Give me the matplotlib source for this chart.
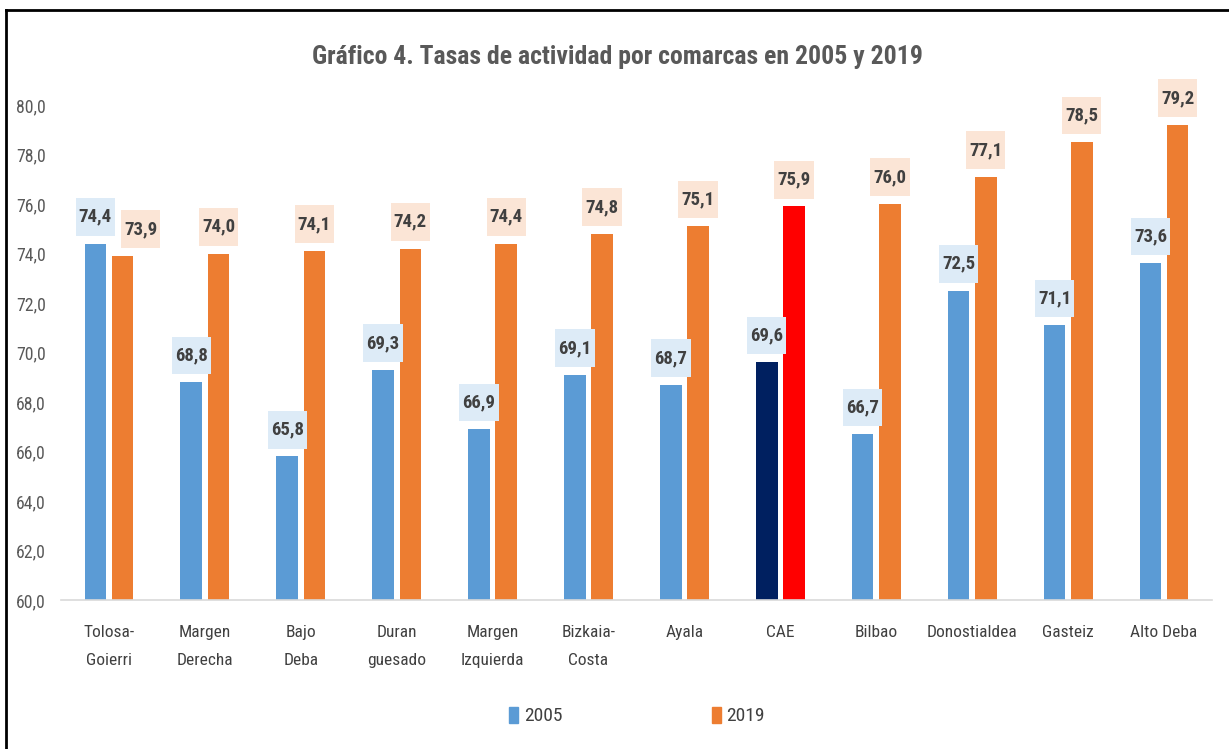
import matplotlib
matplotlib.use("Agg")
import matplotlib.pyplot as plt
import numpy as np
from matplotlib.lines import Line2D
from matplotlib.patches import Rectangle

plt.rcParams['font.family'] = ['Roboto Condensed', 'Lato', 'DejaVu Sans']

# data
comarcas = ["Tolosa-\nGoierri", "Margen\nDerecha", "Bajo\nDeba", "Duran\nguesado",
            "Margen\nIzquierda", "Bizkaia-\nCosta", "Ayala", "CAE", "Bilbao",
            "Donostialdea", "Gasteiz", "Alto Deba"]
tasa2005 = [74.4, 68.8, 65.8, 69.3, 66.9, 69.1, 68.7, 69.6, 66.7, 72.5, 71.1, 73.6]
tasa2019 = [73.9, 74.0, 74.1, 74.2, 74.4, 74.8, 75.1, 75.9, 76.0, 77.1, 78.5, 79.2]
yticks = [60, 62, 64, 66, 68, 70, 72, 74, 76, 78, 80]

blue = "#5B9BD5"
orange = "#ED7D31"
txt = "#404040"
grey = "#595959"

fig = plt.figure(figsize=(12.29, 7.49), dpi=100)
ax = fig.add_axes([61/1229, 1-600/749, (1212-61)/1229, (600-105)/749])

x = np.arange(len(comarcas))
w = 0.225
off = 0.142
col05 = [blue]*len(x)
col19 = [orange]*len(x)
cae = comarcas.index("CAE")
col05[cae] = "#002060"
col19[cae] = "#FF0000"

b1 = ax.bar(x - off, tasa2005, w, color=col05)
b2 = ax.bar(x + off, tasa2019, w, color=col19)

def fmt(v):
    return ("%.1f" % v).replace(".", ",")

# label boxes: ~40 px wide, ~37 px tall, sitting ~8 px above the bar
bw, bh, gap = 0.41, 1.52, 0.32

def label(xc, v, fc):
    ax.add_patch(Rectangle((xc - bw/2, v + gap), bw, bh, fc=fc, ec="none",
                           clip_on=False, zorder=3))
    ax.text(xc, v + gap + bh/2, fmt(v), ha="center", va="center", fontsize=13.5,
            fontweight="bold", color=txt, zorder=4, clip_on=False)

for i in range(len(x)):
    label(x[i] - off, tasa2005[i], "#DDEBF7")
    dx = 0.19 if i == 0 else 0   # 2019 label nudged right where it meets the 2005 one
    label(x[i] + off + dx, tasa2019[i], "#FBE5D6")

ax.set_ylim(60, 80)
ax.set_xlim(-0.5, len(x)-0.5)
ax.set_yticks(yticks)
ax.set_yticklabels([fmt(t) for t in yticks], fontsize=12.75, color=grey)
ax.set_xticks(x)
ax.set_xticklabels(comarcas, fontsize=12.5, color=txt, linespacing=2.1)
ax.tick_params(axis="both", length=0)
ax.tick_params(axis="y", pad=11)
ax.tick_params(axis="x", pad=18)
for s in ["top", "right", "left"]:
    ax.spines[s].set_visible(False)
ax.spines["bottom"].set_color("#D9D9D9")
ax.spines["bottom"].set_linewidth(1.2)

fig.text(617/1229, 1-57/749, "Gráfico 4. Tasas de actividad por comarcas en 2005 y 2019",
         ha="center", va="center", fontsize=18.5, fontweight="bold", color=grey)

fig.legend([b1[0], b2[0]], ["2005", "2019"], loc="center",
           bbox_to_anchor=(637/1229, 1-716/749), ncol=2, frameon=False,
           fontsize=14, handlelength=0.45, handleheight=0.9, handletextpad=0.3,
           columnspacing=7.7, labelcolor=txt)
leg = fig.legends[0]
leg.legend_handles[0].set_color(blue)
leg.legend_handles[1].set_color(orange)

# outer frame
fig.add_artist(Line2D([6/1229, 1], [1-10/749, 1-10/749], color="black", lw=2))
fig.add_artist(Line2D([6/1229, 6/1229], [0, 1-10/749], color="black", lw=2))

fig.savefig("out.png", dpi=100)
